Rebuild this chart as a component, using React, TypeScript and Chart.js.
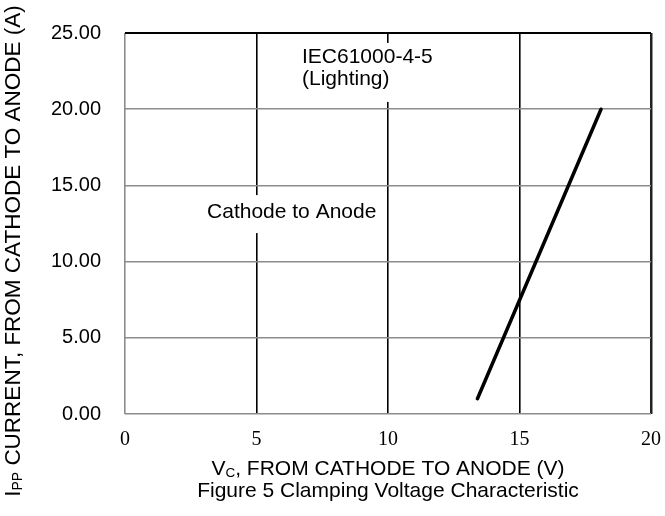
import React, { useEffect, useRef } from "react";
import { Chart, registerables } from "chart.js";

Chart.register(...registerables);

const vcValues = [13.4, 18.1];
const ippValues = [1.0, 20.0];
const xTickValues = [0, 5, 10, 15, 20];
const yTickLabels = ["0.00", "5.00", "10.00", "15.00", "20.00", "25.00"];
const yTitleMain = "I";
const yTitleSub = "PP";
const yTitleRest = " CURRENT, FROM CATHODE TO ANODE (A)";
const xTitleMain = "V";
const xTitleSub = "C";
const xTitleRest = ", FROM CATHODE TO ANODE (V)";
const captionText = "Figure 5 Clamping Voltage Characteristic";
const noteIec = ["IEC61000-4-5", "(Lighting)"];
const noteDirection = "Cathode to Anode";

const SANS = "'Liberation Sans', Arial, sans-serif";

const decorPlugin = {
  id: "decor",
  beforeDatasetsDraw(chart: any) {
    const ctx = chart.ctx;
    const xs = chart.scales.x;
    const ys = chart.scales.y;
    ctx.save();
    ctx.font = `21px ${SANS}`;
    ctx.textBaseline = "middle";
    ctx.textAlign = "left";
    // IEC note
    const ix = xs.getPixelForValue(6.73);
    const iy = ys.getPixelForValue(23.43);
    ctx.fillStyle = "#fff";
    ctx.fillRect(ix - 6, iy - 14, 150, 59);
    ctx.fillStyle = "#000";
    ctx.fillText(noteIec[0], ix, iy);
    ctx.fillText(noteIec[1], ix, iy + 22);
    // direction note
    const cx = xs.getPixelForValue(3.12);
    const cy = ys.getPixelForValue(13.25);
    ctx.fillStyle = "#fff";
    ctx.fillRect(cx - 6, cy - 17, 180, 38);
    ctx.fillStyle = "#000";
    ctx.fillText(noteDirection, cx, cy);
    ctx.restore();
  },
  afterDraw(chart: any) {
    const ctx = chart.ctx;
    const area = chart.chartArea;
    ctx.save();
    ctx.fillStyle = "#000";
    ctx.textBaseline = "middle";
    // x title with subscript
    const mid = (area.left + area.right) / 2;
    const big = `21px ${SANS}`;
    const small = `13.5px ${SANS}`;
    ctx.font = big;
    const w1 = ctx.measureText(xTitleMain).width;
    const w3 = ctx.measureText(xTitleRest).width;
    ctx.font = small;
    const w2 = ctx.measureText(xTitleSub).width;
    const x0 = mid - (w1 + w2 + w3) / 2;
    const ty = 469;
    ctx.textAlign = "left";
    ctx.font = big;
    ctx.fillText(xTitleMain, x0, ty);
    ctx.font = small;
    ctx.fillText(xTitleSub, x0 + w1, ty + 4);
    ctx.font = big;
    ctx.fillText(xTitleRest, x0 + w1 + w2, ty);
    ctx.textAlign = "center";
    ctx.fillText(captionText, mid, ty + 22);
    // y title rotated
    ctx.save();
    ctx.translate(14, 251);
    ctx.rotate(-Math.PI / 2);
    const ybig = `22.5px ${SANS}`;
    const ysmall = `14px ${SANS}`;
    ctx.font = ybig;
    const v1 = ctx.measureText(yTitleMain).width;
    const v3 = ctx.measureText(yTitleRest).width;
    ctx.font = ysmall;
    const v2 = ctx.measureText(yTitleSub).width;
    const s0 = -(v1 + v2 + v3) / 2;
    ctx.textAlign = "left";
    ctx.font = ybig;
    ctx.fillText(yTitleMain, s0, 0);
    ctx.font = ysmall;
    ctx.fillText(yTitleSub, s0 + v1, 4);
    ctx.font = ybig;
    ctx.fillText(yTitleRest, s0 + v1 + v2, 0);
    ctx.restore();
    ctx.restore();
  },
};

export default function App() {
  const ref = useRef<HTMLCanvasElement | null>(null);
  useEffect(() => {
    document.body.style.margin = "0";
    const canvas = ref.current!;
    const points = vcValues.map((v, i) => ({ x: v, y: ippValues[i] }));
    const chart = new Chart(canvas, {
      type: "scatter",
      data: {
        datasets: [
          {
            data: points,
            showLine: true,
            borderColor: "#000",
            borderWidth: 3.5,
            borderCapStyle: "round",
            pointRadius: 0,
            pointHoverRadius: 0,
          } as any,
        ],
      },
      options: {
        responsive: false,
        animation: false,
        devicePixelRatio: 1,
        layout: { padding: { top: 33, right: 14, left: 0, bottom: 0 } },
        plugins: { legend: { display: false }, tooltip: { enabled: false } },
        scales: {
          x: {
            type: "linear",
            min: 0,
            max: 20,
            afterBuildTicks: (s: any) => {
              s.ticks = xTickValues.map((v) => ({ value: v }));
            },
            afterFit: (s: any) => {
              s.height = 102;
              s.paddingLeft = 0;
              s.paddingRight = 0;
            },
            ticks: {
              color: "#000",
              padding: 14,
              font: { family: "'Liberation Serif', serif", size: 20 },
              maxRotation: 0,
            },
            grid: {
              drawTicks: false,
              color: (c: any) => (c.tick && c.tick.value === 0 ? "#8c8c8c" : c.tick && c.tick.value === 20 ? "#222" : "#000"),
              lineWidth: (c: any) => (c.tick && c.tick.value === 20 ? 2.5 : 1.6),
            },
            border: { display: false },
          },
          y: {
            type: "linear",
            min: 0,
            max: 25,
            afterBuildTicks: (s: any) => {
              s.ticks = yTickLabels.map((_, i) => ({ value: i * 5 }));
            },
            afterFit: (s: any) => {
              s.width = 125;
              s.paddingTop = 0;
              s.paddingBottom = 0;
            },
            ticks: {
              color: "#000",
              padding: 24,
              font: { family: SANS, size: 20 },
              callback: (_v: any, i: number) => yTickLabels[i],
            },
            grid: {
              drawTicks: false,
              color: (c: any) => (c.tick && c.tick.value === 25 ? "#000" : "#8c8c8c"),
              lineWidth: (c: any) => (c.tick && c.tick.value === 25 ? 2 : 1.6),
            },
            border: { display: false },
          },
        },
      },
      plugins: [decorPlugin],
    });
    return () => chart.destroy();
  }, []);
  return (
    <div style={{ width: 665, height: 516, background: "#fff" }}>
      <canvas ref={ref} width={665} height={516} style={{ display: "block" }} />
    </div>
  );
}
